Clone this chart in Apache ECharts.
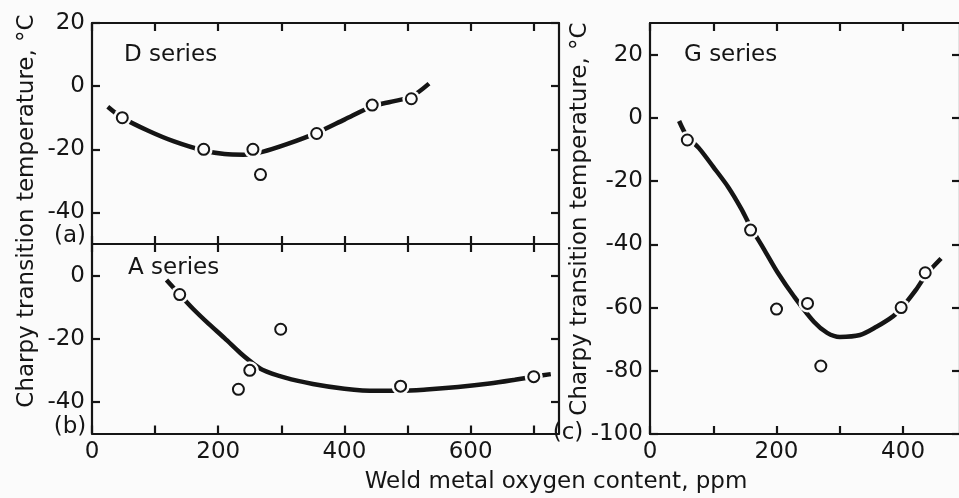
<!DOCTYPE html>
<html><head><meta charset="utf-8">
<script src="https://cdn.jsdelivr.net/npm/echarts@6/dist/echarts.min.js"></script>
<style>html,body{margin:0;padding:0;background:#fbfbfb}#c{width:959px;height:498px}</style>
</head><body><div id="c"></div>
<script>
// ---- data (ppm, °C) ----
const dPoints = [[48,-10],[177,-20],[255,-20],[267,-28],[356,-15],[444,-6],[506,-4]];
const dCurve = [[25,-6.5],[48,-10],[90,-14.2],[130,-17.5],[177,-20.4],[210,-21.5],[240,-21.7],[270,-20.8],[310,-18.3],[356,-14.8],[400,-10.6],[444,-6.4],[475,-4.9],[506,-3.3],[534,0.8]];
const aPoints = [[139,-6],[232,-36],[250,-30],[299,-17],[489,-35],[700,-32]];
const aCurve = [[118,-1.4],[139,-6],[160,-10.5],[185,-15.3],[210,-19.8],[235,-24.5],[250,-27],[270,-29.8],[306,-32.3],[350,-34.3],[400,-35.8],[450,-36.5],[489,-36.5],[530,-36.1],[580,-35.3],[630,-34.2],[670,-33],[700,-32],[727,-31.2]];
const gPoints = [[59,-7],[159,-35.5],[200,-60.5],[249,-58.7],[270,-78.5],[397,-60],[435,-49]];
const gCurve = [[46,-1],[59,-6],[77,-9.5],[100,-15.5],[124,-22],[145,-29],[159,-34.5],[180,-41.5],[202,-49],[228,-56.6],[259,-64.5],[280,-68],[300,-69.3],[332,-68.7],[358,-66.1],[384,-62.8],[397,-60.3],[420,-54.5],[437,-49.5],[460,-44.5]];

const xTicksLeft = [0,100,200,300,400,500,600,700];
const xLabelsLeft = [0,200,400,600];
const yTicksA = [20,0,-20,-40];
const yTicksB = [0,-20,-40];
const xTicksRight = [0,100,200,300,400];
const xLabelsRight = [0,200,400];
const yTicksC = [20,0,-20,-40,-60,-80,-100];

const INK = '#151515', BG = '#fbfbfb', FONT = 'DejaVu Sans';

function axis(gridIndex, position, min, max, ticks, labels) {
  return {
    type: 'value', gridIndex, position, min, max,
    axisLine: { show: true, onZero: false, lineStyle: { color: INK, width: 2.2 } },
    axisTick: { show: true, inside: true, length: 8, customValues: ticks, lineStyle: { color: INK, width: 2.2 } },
    axisLabel: { show: !!labels, customValues: labels || [], fontSize: 23, fontFamily: FONT, color: INK, margin: 7 },
    splitLine: { show: false }
  };
}

function seriesFor(idx, curve, pts) {
  return [
    { type: 'line', xAxisIndex: idx, yAxisIndex: idx, data: curve, smooth: 0.3, showSymbol: false, silent: true,
      lineStyle: { color: INK, width: 4.5 }, z: 2 },
    { type: 'scatter', xAxisIndex: idx, yAxisIndex: idx, data: pts, symbol: 'circle', symbolSize: 18, silent: true,
      itemStyle: { color: BG, opacity: 1 }, z: 3 },
    { type: 'scatter', xAxisIndex: idx, yAxisIndex: idx, data: pts, symbol: 'circle', symbolSize: 11, silent: true,
      itemStyle: { color: BG, borderColor: INK, borderWidth: 2, opacity: 1 }, z: 4 }
  ];
}

function txt(text, x, y, opts) {
  return Object.assign({ type: 'text', z: 10, silent: true,
    style: Object.assign({ text, x: 0, y: 0, fontSize: 23, fontFamily: FONT, fill: INK, align: 'left', verticalAlign: 'middle' }, opts && opts.style || {}),
    x, y }, opts && opts.extra || {});
}

const chart = echarts.init(document.getElementById('c'), null, { renderer: 'canvas' });
chart.setOption({
  backgroundColor: BG,
  animation: false,
  grid: [
    { left: 92, top: 23, width: 467, height: 221, outerBoundsMode: 'none', containLabel: false },
    { left: 92, top: 244, width: 467, height: 189.5, outerBoundsMode: 'none', containLabel: false },
    { left: 650, top: 23, width: 310, height: 411, outerBoundsMode: 'none', containLabel: false }
  ],
  xAxis: [
    axis(0, 'bottom', 0, 740, xTicksLeft, null),
    axis(0, 'top', 0, 740, xTicksLeft, null),
    axis(1, 'bottom', 0, 740, xTicksLeft, xLabelsLeft),
    axis(1, 'top', 0, 740, xTicksLeft, null),
    axis(2, 'bottom', 0, 490, xTicksRight, xLabelsRight),
    axis(2, 'top', 0, 490, xTicksRight, null)
  ],
  yAxis: [
    axis(0, 'left', -50, 20, yTicksA, yTicksA),
    axis(0, 'right', -50, 20, yTicksA, null),
    axis(1, 'left', -50, 10, yTicksB, yTicksB),
    axis(1, 'right', -50, 10, yTicksB, null),
    axis(2, 'left', -100, 30, yTicksC, yTicksC),
    axis(2, 'right', -100, 30, yTicksC, null)
  ],
  series: [].concat(seriesFor(0, dCurve, dPoints), seriesFor(2, aCurve, aPoints), seriesFor(4, gCurve, gPoints)),
  graphic: [
    txt('D series', 124, 55),
    txt('A series', 128, 268),
    txt('G series', 684, 55),
    txt('(a)', 70, 236, { style: { align: 'center' } }),
    txt('(b)', 70, 427, { style: { align: 'center' } }),
    txt('(c)', 568, 433, { style: { align: 'center' } }),
    txt('Weld metal oxygen content, ppm', 556, 482, { style: { align: 'center' } }),
    txt('Charpy transition temperature, °C', 27, 211, { style: { align: 'center' }, extra: { rotation: Math.PI / 2 } }),
    txt('Charpy transition temperature, °C', 580, 219, { style: { align: 'center' }, extra: { rotation: Math.PI / 2 } })
  ]
});
</script></body></html>
